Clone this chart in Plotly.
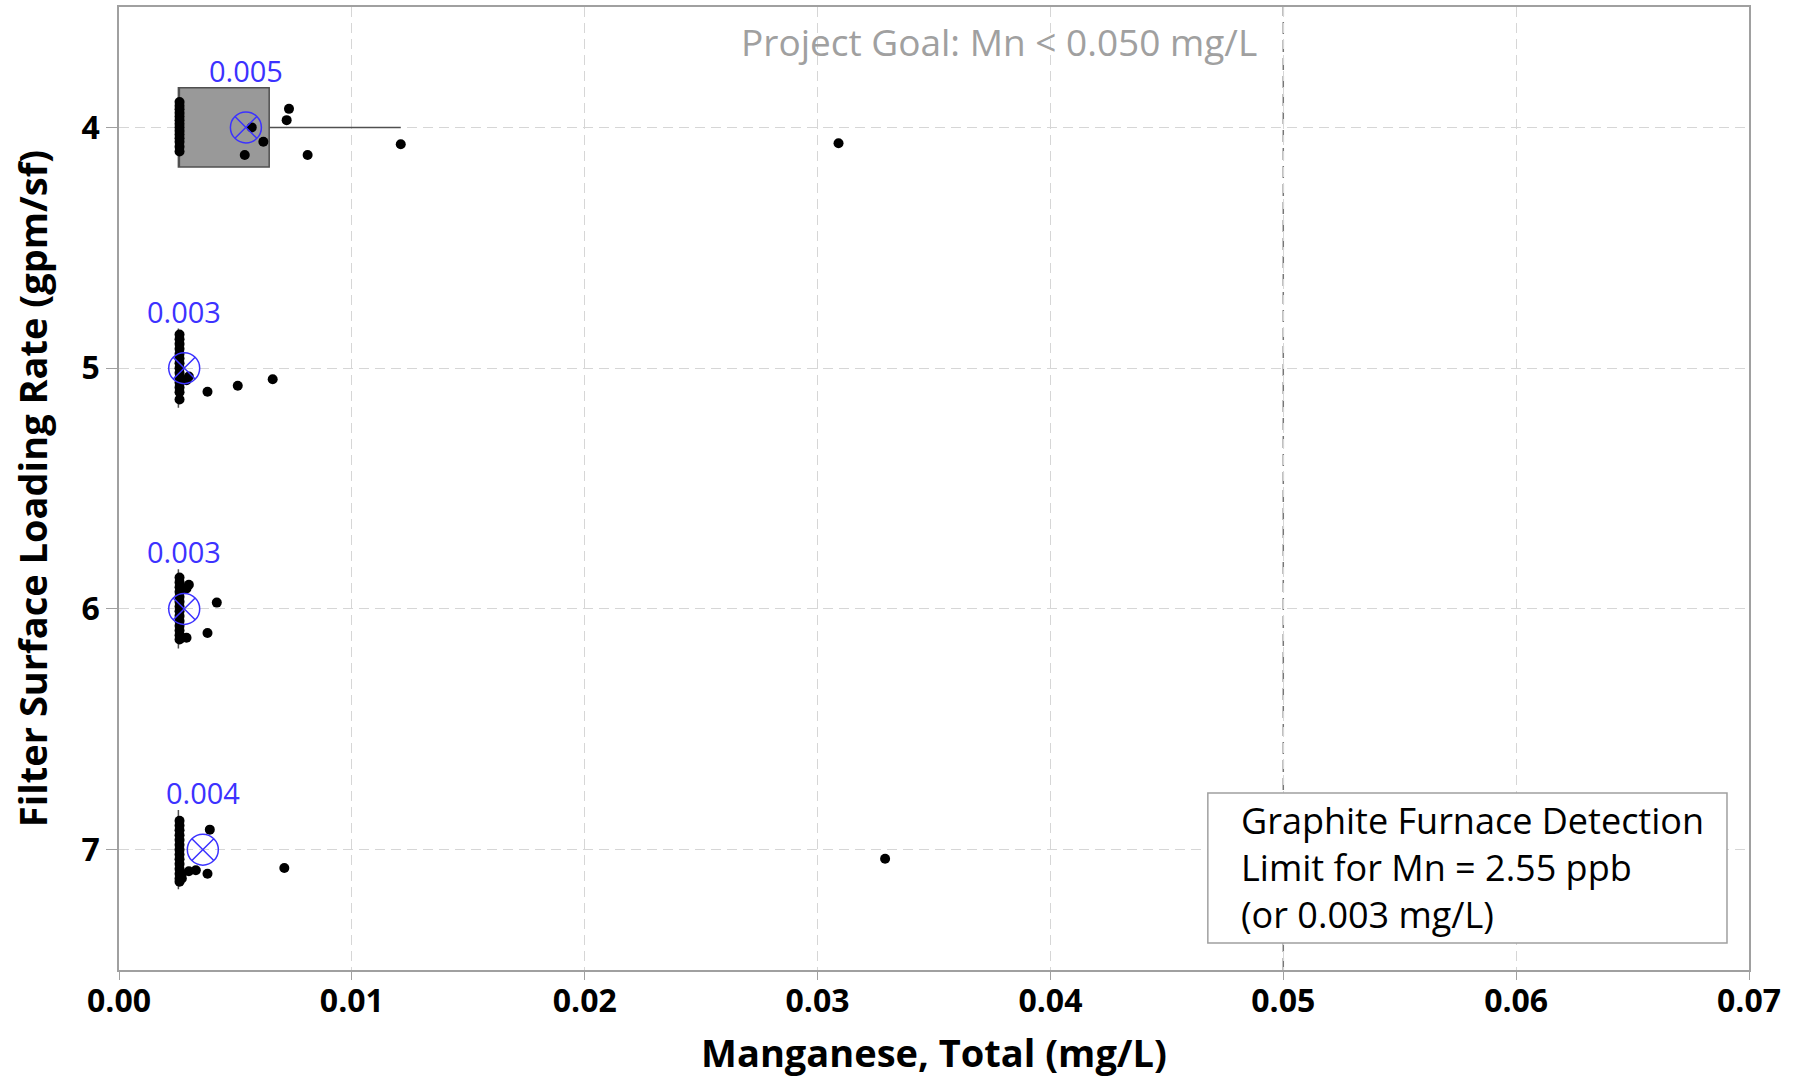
import plotly.graph_objects as go

# Filter surface loading rates (gpm/sf) shown on the category axis
rates = [4, 5, 6, 7]

# Individual total-manganese results (mg/L) for each loading rate,
# with the vertical jitter used to spread overlapping points
mn_4 = [0.0026] * 14 + [0.0073, 0.0072, 0.0057, 0.0062, 0.0054, 0.0081, 0.0121, 0.0309]
jit_4 = [-0.105, -0.09, -0.075, -0.06, -0.045, -0.03, -0.015, 0.0, 0.015, 0.03, 0.045, 0.06, 0.08, 0.10,
         -0.077, -0.03, 0.0, 0.06, 0.115, 0.115, 0.07, 0.066]

mn_5 = [0.0026] * 14 + [0.0030, 0.0029, 0.0038, 0.0051, 0.0066]
jit_5 = [-0.14, -0.12, -0.10, -0.08, -0.06, -0.04, -0.02, 0.0, 0.02, 0.04, 0.06, 0.08, 0.10, 0.13,
         0.035, 0.05, 0.098, 0.073, 0.046]

mn_6 = [0.0026] * 14 + [0.0030, 0.0029, 0.0027, 0.0029, 0.0042, 0.0038]
jit_6 = [-0.13, -0.11, -0.09, -0.07, -0.05, -0.03, -0.01, 0.01, 0.03, 0.05, 0.07, 0.09, 0.11, 0.127,
         -0.10, -0.085, 0.12, 0.12, -0.026, 0.10]

mn_7 = [0.0026] * 14 + [0.0027, 0.0027, 0.0039, 0.0038, 0.0033, 0.0030, 0.0071, 0.0329]
jit_7 = [-0.12, -0.10, -0.08, -0.06, -0.04, -0.02, 0.0, 0.02, 0.04, 0.06, 0.08, 0.10, 0.12, 0.133,
         0.10, 0.12, -0.083, 0.10, 0.086, 0.09, 0.076, 0.038]

mn_values = [mn_4, mn_5, mn_6, mn_7]
jitters = [jit_4, jit_5, jit_6, jit_7]

# Box-plot summary statistics (mg/L)
q1_values = [0.00255, 0.00255, 0.00255, 0.00255]
median_values = [0.00255, 0.00255, 0.00255, 0.00255]
q3_values = [0.00645, 0.00255, 0.00255, 0.00255]
lower_fences = [0.00255, 0.00255, 0.00255, 0.00255]
upper_fences = [0.0121, 0.00255, 0.00255, 0.00255]

# Mean result per loading rate (mg/L)
mean_values = [0.00545, 0.0028, 0.0028, 0.0036]

# Project goal for manganese (mg/L)
GOAL = 0.050

x_ticks = [0.00, 0.01, 0.02, 0.03, 0.04, 0.05, 0.06, 0.07]

BLUE = "#3c32ff"
GRID = "#d6d6d6"
FRAME = "#a0a0a0"
FONT = "Open Sans"

fig = go.Figure()

fig.add_trace(go.Box(
    y=rates,
    q1=q1_values,
    median=median_values,
    q3=q3_values,
    lowerfence=lower_fences,
    upperfence=upper_fences,
    orientation="h",
    width=0.33,
    whiskerwidth=0,
    boxpoints=False,
    fillcolor="#999999",
    line=dict(color="#505050", width=1.5),
    hoverinfo="skip",
    showlegend=False,
))

for rate, vals, jit in zip(rates, mn_values, jitters):
    fig.add_trace(go.Scatter(
        x=vals,
        y=[rate + j for j in jit],
        mode="markers",
        marker=dict(color="black", size=10),
        showlegend=False,
    ))

fig.add_trace(go.Scatter(
    x=mean_values,
    y=rates,
    mode="markers",
    marker=dict(symbol="circle-x-open", size=31, color=BLUE, line=dict(width=1.5, color=BLUE)),
    showlegend=False,
))

for rate, m in zip(rates, mean_values):
    fig.add_annotation(
        x=m, y=rate, xref="x", yref="y",
        text=f"{m:.3f}", showarrow=False,
        xanchor="center", yanchor="middle", yshift=57,
        font=dict(family=FONT, size=29, color=BLUE),
    )

# Project goal reference line
fig.add_shape(
    type="line", xref="x", yref="paper",
    x0=GOAL, x1=GOAL, y0=0, y1=1,
    line=dict(color="#777777", width=1.5, dash="12px,6px"),
    layer="below",
)
fig.add_annotation(
    x=GOAL, y=0.964, xref="x", yref="paper",
    text=f"Project Goal: Mn < {GOAL:.3f} mg/L", showarrow=False,
    xanchor="right", yanchor="middle", xshift=-24,
    font=dict(family=FONT, size=37, color=FRAME),
)

# Detection-limit note
fig.add_shape(
    type="rect", xref="paper", yref="paper",
    x0=0.668, x1=0.9865, y0=0.028, y1=0.1838,
    line=dict(color=FRAME, width=1.5), fillcolor="white",
)
fig.add_annotation(
    x=0.687, y=0.106, xref="paper", yref="paper",
    text="Graphite Furnace Detection<br>Limit for Mn = 2.55 ppb<br>(or 0.003 mg/L)",
    showarrow=False, xanchor="left", yanchor="middle", align="left",
    font=dict(family=FONT, size=36, color="black"),
)

fig.update_xaxes(
    range=[0, 0.07],
    tickvals=x_ticks,
    tickformat=".2f",
    ticks="outside", ticklen=8, tickcolor=FRAME,
    ticklabelstandoff=-6,
    showline=True, linecolor=FRAME, linewidth=1.5, mirror=True,
    showgrid=True, gridcolor=GRID, griddash="10px,6px", gridwidth=1,
    zeroline=False,
    tickfont=dict(family=FONT, size=32, color="black", weight="bold"),
    title=dict(text="Manganese, Total (mg/L)", standoff=20,
               font=dict(family=FONT, size=38, color="black", weight="bold")),
)
fig.update_yaxes(
    range=[7.5, 3.5],
    tickvals=rates,
    ticks="outside", ticklen=11, tickcolor=FRAME,
    showline=True, linecolor=FRAME, linewidth=1.5, mirror=True,
    showgrid=True, gridcolor=GRID, griddash="10px,6px", gridwidth=1,
    zeroline=False,
    tickfont=dict(family=FONT, size=32, color="black", weight="bold"),
    title=dict(text="Filter Surface Loading Rate (gpm/sf)", standoff=22,
               font=dict(family=FONT, size=38, color="black", weight="bold")),
)

fig.update_layout(
    width=1807, height=1079,
    margin=dict(l=119, r=58, t=7, b=109, autoexpand=False),
    plot_bgcolor="white", paper_bgcolor="white",
    showlegend=False,
)

fig.write_html("out.html")
